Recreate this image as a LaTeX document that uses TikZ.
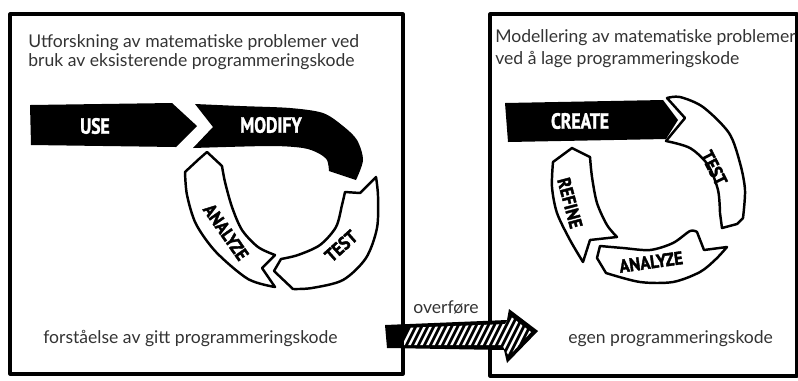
\documentclass[tikz,border=0pt]{standalone}
\usepackage{fontspec}
\setmainfont{Lato}
\newfontfamily\tagfont[FakeStretch=0.8,FakeBold=1.5]{PT Sans}
\newfontfamily\ringfont[FakeStretch=0.9,FakeBold=2]{PT Sans}
\newcommand\notesize{\fontsize{10}{12}\selectfont}

\begin{document}
\begin{tikzpicture}
  [x=0.02cm,y=-0.02cm,
   frame/.style={line width=1.8pt,line join=round},
   band/.style={draw,line width=1.4pt,fill=white,line join=round},
   note/.style={inner sep=0pt,anchor=base west,text=black!80,font=\notesize},
   tag/.style={inner sep=0pt,text=white,font=\tagfont\bfseries\fontsize{12.5}{12}\selectfont},
   ringtag/.style={inner sep=0pt,font=\ringfont\bfseries\fontsize{10.5}{10}\selectfont}]
  \useasboundingbox (0,0) rectangle (798,380);

  % the two panels
  \draw[frame] (10,14) rectangle (403,374);
  \draw[frame] (490,14) rectangle (797,376);

  \node[note] (introA) at (28,47) {Utforskning av matematiske problemer ved};
  \node[note] (introB) at (28,66) {bruk av eksisterende programmeringskode};
  \node[note] (modelA) at (495,42) {Modellering av matematiske problemer};
  \node[note] (modelB) at (495,64) {ved å lage programmeringskode};

  % use -> modify, then the left cycle
  \fill (30,105) -- (172,103) -- (197,126) -- (176,147) -- (31,145) -- cycle;
  \fill (195,104) -- (213,127) -- (193,148)
    -- plot[smooth] coordinates {(193,148) (270,146) (303,148) (318,153) (327,160) (329,171)}
    -- (356,180)
    -- plot[smooth] coordinates {(356,180) (363,160) (357,140) (343,126) (323,113) (290,108) (240,106) (195,104)}
    -- cycle;
  \draw[band] (376,177) -- (360,193) -- (345,192)
    -- plot[smooth] coordinates {(345,192) (342,205) (336,227) (320,245) (298,255) (281,259)}
    -- (274,271) -- (293,289)
    -- plot[smooth] coordinates {(293,289) (312,288) (343,280) (366,258) (377,228) (378,196) (376,177)}
    -- cycle;
  \draw[band] (275,287) -- (262,268) -- (275,255)
    -- plot[smooth] coordinates {(275,255) (258,247) (242,230) (232,207) (225,182) (222,166)}
    -- (207,152) -- (199,159) -- (185,172)
    -- plot[smooth] coordinates {(185,172) (187,195) (196,224) (216,252) (248,279) (275,287)}
    -- cycle;

  \node[tag] (use) at (95,126) {USE};
  \node[tag] (modify) at (271,125) {MODIFY};
  \node[ringtag,rotate=-55] (analyzeA) at (226,232) {ANALYZE};
  \node[ringtag,rotate=42] (testA) at (341,246) {TEST};

  % create, then the right cycle
  \fill (505,103) -- (663,100) -- (678,120) -- (666,139) -- (508,142) -- cycle;
  \draw[band] (667,98) -- (685,118) -- (666,141)
    -- plot[smooth] coordinates {(666,141) (690,148) (708,165) (718,190) (720,213)}
    -- (722,228) -- (737,224) -- (743,218)
    -- plot[smooth] coordinates {(743,218) (745,190) (740,163) (729,133) (703,107) (680,97) (667,98)}
    -- cycle;
  \draw[band] (697,232) -- (704,250) -- (727,247)
    -- plot[smooth] coordinates {(727,247) (716,259) (700,272) (673,282) (640,282) (606,273)}
    -- (597,258) -- (600,246)
    -- plot[smooth] coordinates {(600,246) (623,248) (650,250) (673,243) (690,231) (697,232)}
    -- cycle;
  \draw[band] (583,262) -- (590,240) -- (617,237)
    -- plot[smooth] coordinates {(617,237) (607,225) (597,203) (592,177) (590,157)}
    -- (572,148) -- (553,162)
    -- plot[smooth] coordinates {(553,162) (552,187) (557,213) (570,240) (583,262)}
    -- cycle;

  \node[tag] (create) at (580,121) {CREATE};
  \node[ringtag,rotate=-63] (testB) at (714,168) {TEST};
  \node[ringtag,rotate=8] (analyzeB) at (651,262) {ANALYZE};
  \node[ringtag,rotate=-75] (refine) at (570,203) {REFINE};

  \node[note] (understand) at (43,343) {forståelse av gitt programmeringskode};
  \node[note] (own) at (568,343) {egen programmeringskode};
  \node[note] (transfer) at (413,313) {overføre};

  % hatched arrow across the gap
  \fill (385,325) -- (507,320) -- (509,309) -- (538,331) -- (507,363) -- (504,350) -- (387,348) -- cycle;
  \begin{scope}
    \clip (404,328) -- (505,324) -- (510,316) -- (531,332) -- (509,356) -- (502,345) -- (404,345) -- cycle;
    \foreach \k in {0,...,24}
      \draw[white,line width=1.3pt] ({395+6*\k},362) -- ({420+6*\k},312);
  \end{scope}
\end{tikzpicture}
\end{document}
